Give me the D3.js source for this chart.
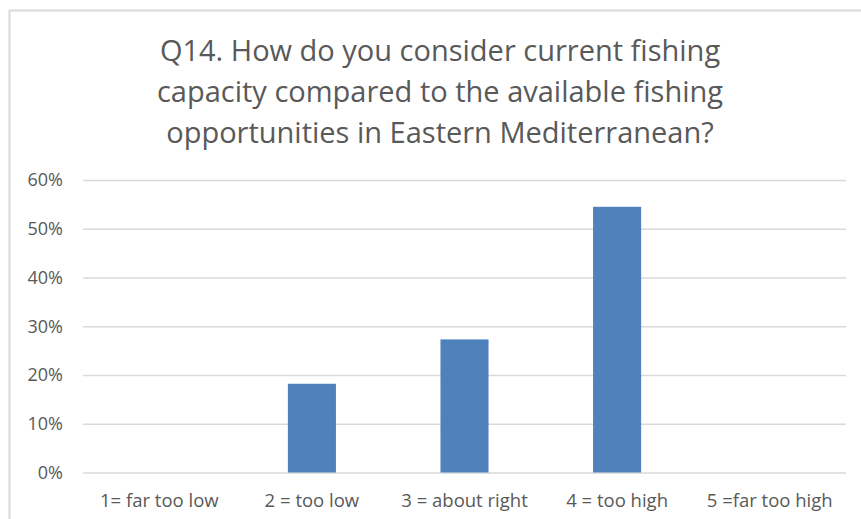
<!DOCTYPE html>
<html>
<head>
<meta charset="utf-8">
<script src="https://cdn.jsdelivr.net/npm/d3@7"></script>
<style>
  html, body { margin: 0; padding: 0; background: #ffffff; overflow: hidden; }
  svg { display: block; }
  text { font-family: "Open Sans", "Noto Sans", sans-serif; fill: #595959; }
</style>
</head>
<body>
<svg id="chart" width="861" height="519"></svg>
<script>
// Survey answers and share of respondents
const categories = ["1= far too low", "2 = too low", "3 = about right", "4 = too high", "5 =far too high"];
const shares = [0, 0.182, 0.273, 0.545, 0];
const yTicks = [0, 0.1, 0.2, 0.3, 0.4, 0.5, 0.6];
const titleLines = [
  "Q14. How do you consider current fishing",
  "capacity compared to the available fishing",
  "opportunities in Eastern Mediterranean?"
];

const svg = d3.select("#chart");

// chart frame
svg.append("rect")
  .attr("x", 9.5).attr("y", 10.5)
  .attr("width", 880).attr("height", 540)
  .attr("fill", "#ffffff")
  .attr("stroke", "#d9d9d9")
  .attr("stroke-width", 2);

const plot = { left: 83, right: 846, top: 180, bottom: 472.5 };

const x = d3.scaleBand()
  .domain(categories)
  .range([plot.left, plot.right])
  .paddingInner(0.685)
  .paddingOuter(0.3425);

const y = d3.scaleLinear()
  .domain([0, 0.6])
  .range([plot.bottom, plot.top]);

// gridlines + y labels
const yAxis = d3.axisLeft(y)
  .tickValues(yTicks)
  .tickFormat(d3.format(".0%"))
  .tickSize(-(plot.right - plot.left))
  .tickPadding(20);

const gy = svg.append("g")
  .attr("transform", `translate(${plot.left},0)`)
  .call(yAxis);
gy.select(".domain").remove();
gy.selectAll(".tick line").attr("stroke", "#d9d9d9").attr("stroke-width", 1.5);
gy.selectAll(".tick text")
  .attr("font-size", 18)
  .attr("fill", "#595959")
  .style("font-family", '"Open Sans", sans-serif');

// bars
svg.append("g").selectAll("rect")
  .data(categories.map((c, i) => ({ c, v: shares[i] })))
  .join("rect")
  .attr("x", d => x(d.c))
  .attr("width", x.bandwidth())
  .attr("y", d => y(d.v))
  .attr("height", d => y(0) - y(d.v))
  .attr("fill", "#4f81bd");

// category labels
const xAxis = d3.axisBottom(x).tickSize(0).tickPadding(21);
const gx = svg.append("g")
  .attr("transform", `translate(0,${plot.bottom})`)
  .call(xAxis);
gx.select(".domain").remove();
gx.selectAll(".tick text")
  .attr("font-size", 18.5)
  .attr("fill", "#595959")
  .style("font-family", '"Open Sans", sans-serif');

// title
svg.append("text")
  .attr("x", 440)
  .attr("y", 61)
  .attr("text-anchor", "middle")
  .attr("font-size", 29)
  .selectAll("tspan")
  .data(titleLines)
  .join("tspan")
  .attr("x", 440)
  .attr("dy", (d, i) => i === 0 ? 0 : 41)
  .text(d => d);
</script>
</body>
</html>
